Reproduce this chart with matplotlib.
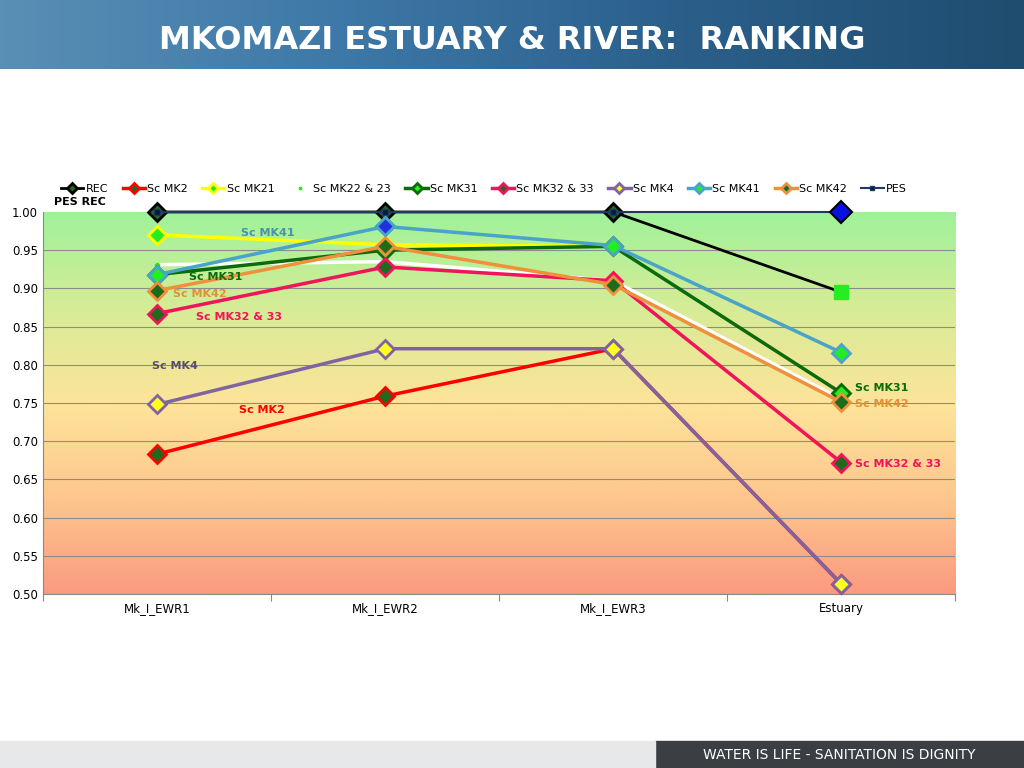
import numpy as np
import matplotlib.pyplot as plt
from matplotlib.colors import LinearSegmentedColormap
from matplotlib.patches import Rectangle

categories = ["Mk_I_EWR1", "Mk_I_EWR2", "Mk_I_EWR3", "Estuary"]
rec = [1.0, 1.0, 1.0, 0.895]
sc_mk2 = [0.683, 0.759, 0.821, 0.513]
sc_mk21 = [0.970, 0.957, 0.955, np.nan]
sc_mk22_23 = [0.931, 0.935, 0.910, 0.755]
sc_mk31 = [0.918, 0.950, 0.955, 0.763]
sc_mk32_33 = [0.867, 0.928, 0.910, 0.672]
sc_mk4 = [0.748, 0.821, 0.821, 0.513]
sc_mk41 = [0.918, 0.981, 0.956, 0.816]
sc_mk42 = [0.897, 0.955, 0.905, 0.751]
pes = [1.0, 1.0, 1.0, 1.0]

fig = plt.figure(figsize=(10.24, 7.68), dpi=100)

# header banner
hdr = fig.add_axes([0, 0.91, 1, 0.09])
grad = np.linspace(0, 1, 256).reshape(1, -1)
hdr.imshow(grad, aspect="auto", cmap=LinearSegmentedColormap.from_list("h", ["#5a8fb5", "#3d78a8", "#2b5f8a", "#1f4d70"]), extent=[0, 1, 0, 1])
hdr.axis("off")
hdr.text(0.5, 0.42, "MKOMAZI ESTUARY & RIVER:  RANKING", color="white", fontsize=23, fontweight="bold", ha="center", va="center", family="Liberation Sans Narrow")

# footer bar
fig.patches.append(Rectangle((0.64, 0), 0.36, 0.035, transform=fig.transFigure, color="#3b3f44"))
fig.patches.append(Rectangle((0, 0), 0.64, 0.035, transform=fig.transFigure, color="#e6e8ea"))
fig.text(0.82, 0.017, "WATER IS LIFE - SANITATION IS DIGNITY", color="white", fontsize=10, ha="center", va="center")

ax = fig.add_axes([0.042, 0.2266, 0.891, 0.4974])
bg = LinearSegmentedColormap.from_list("bg", ["#9ef29a", "#d6ec96", "#fde49a", "#fdc78e", "#fb9a80"])
ax.imshow(np.linspace(0, 1, 256).reshape(-1, 1), aspect="auto", cmap=bg, extent=[0, 4, 0.5, 1.0], zorder=0)
ax.set_xlim(0, 4)
ax.set_ylim(0.5, 1.0)
for y in np.arange(0.55, 1.0, 0.05):
    ax.axhline(y, color="#8c8c8c", lw=0.8, zorder=1)

x = np.arange(len(categories)) + 0.5
series = [
    ("REC", rec, "black", "#1e6b1e", 2),
    ("Sc MK2", sc_mk2, "red", "#1e6b1e", 2.5),
    ("Sc MK21", sc_mk21, "yellow", "#22ee22", 2.5),
    ("Sc MK22 & 23", sc_mk22_23, "white", "#22ee22", 2.5),
    ("Sc MK31", sc_mk31, "#0b6b0b", "#22ee22", 2.5),
    ("Sc MK32 & 33", sc_mk32_33, "#f0145a", "#1e6b1e", 2.5),
    ("Sc MK4", sc_mk4, "#8064a2", "#ffff22", 2.5),
    ("Sc MK41", sc_mk41, "#4aa3c8", "#22ee22", 2.5),
    ("Sc MK42", sc_mk42, "#f0903c", "#1e6b1e", 2.5),
]
for name, vals, col, face, lw in series:
    if name == "Sc MK22 & 23":
        ax.plot(x, vals, color=col, lw=lw, marker="o", ms=3, mfc="#22ee22", mec="#22ee22", zorder=3, clip_on=False, label=name)
        continue
    ax.plot(x, vals, color=col, lw=lw, marker="D", ms=9, mfc=face, mec=col, mew=2, zorder=3, clip_on=False,
            label=name, markevery=[0, 1, 2] if name == "REC" else None)
ax.plot(x[3], rec[3], marker="s", ms=10, color="#22ee22", zorder=4, clip_on=False)
ax.plot(x, pes, color="#1f3864", lw=1.5, marker="s", ms=5, mfc="#0a1a3a", zorder=5, clip_on=False, label="PES")
ax.plot(x[3], pes[3], marker="D", ms=11, mfc="#0a10e0", mec="black", mew=1.5, zorder=6, clip_on=False)
ax.plot(x[1], sc_mk41[1], marker="D", ms=9, mfc="#2030e0", mec="#4aa3c8", mew=2, zorder=6)

labels = [
    (0.87, 0.972, "Sc MK41", "#4a90b0"), (0.64, 0.915, "Sc MK31", "#0b6b0b"),
    (0.57, 0.893, "Sc MK42", "#e0903c"), (0.67, 0.862, "Sc MK32 & 33", "#f0145a"),
    (0.48, 0.799, "Sc MK4", "#5a4a7a"), (0.86, 0.741, "Sc MK2", "red"),
    (3.56, 0.769, "Sc MK31", "#0b6b0b"), (3.56, 0.748, "Sc MK42", "#e0903c"),
    (3.56, 0.670, "Sc MK32 & 33", "#f0145a"),
]
for lx, ly, t, c in labels:
    ax.text(lx, ly, t, color=c, fontsize=8, fontweight="bold", va="center")
ax.text(0.05, 1.006, "PES REC", fontsize=8, fontweight="bold", va="bottom")

ax.set_xticks(np.arange(5), minor=False)
ax.set_xticklabels([])
ax.set_xticks(x, minor=True)
ax.set_xticklabels(categories, minor=True, fontsize=8.5)
ax.tick_params(axis="x", which="minor", length=0, pad=6)
ax.tick_params(axis="x", which="major", length=5, color="#888888")
ax.set_yticks(np.arange(0.5, 1.001, 0.05))
ax.set_yticklabels([f"{v:.2f}" for v in np.arange(0.5, 1.001, 0.05)], fontsize=8.5)
ax.tick_params(axis="y", length=0)
for s in ["top", "right"]:
    ax.spines[s].set_visible(False)
ax.spines["left"].set_color("#888888")
ax.spines["bottom"].set_color("#888888")
ax.legend(ncol=10, loc="lower left", bbox_to_anchor=(0.015, 1.035), frameon=False, fontsize=8,
          handlelength=2, handletextpad=0.2, columnspacing=1.3, borderaxespad=0, markerscale=0.6)

fig.savefig("out.png", dpi=100)
